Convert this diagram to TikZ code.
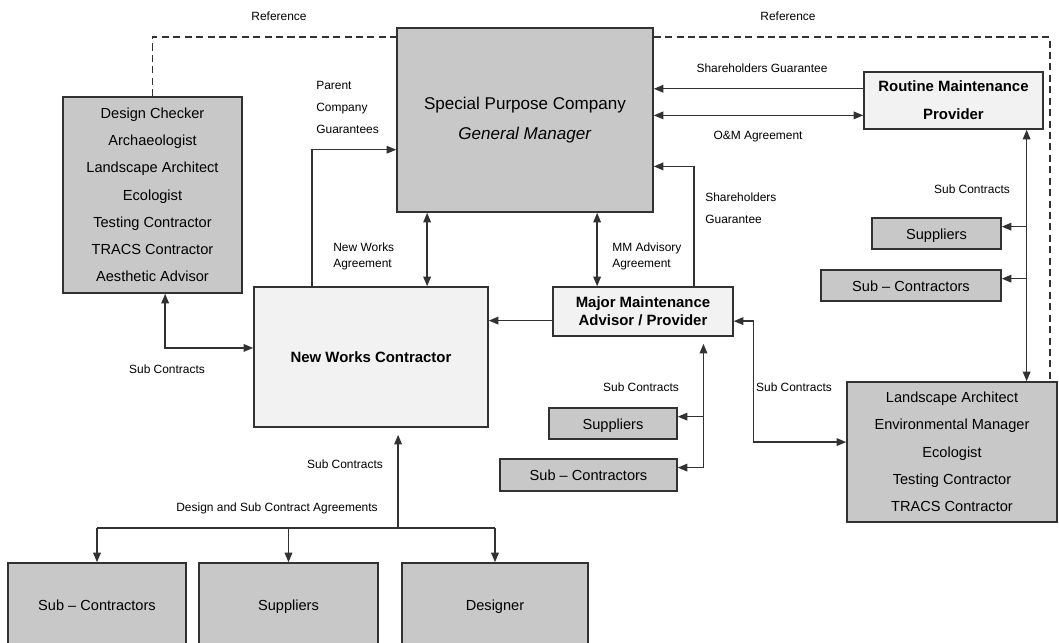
\documentclass[tikz,border=0pt]{standalone}
\usepackage{fontspec}
\setmainfont{Liberation Sans}
\usetikzlibrary{arrows.meta,calc}
\definecolor{boxgray}{RGB}{200,200,200}
\definecolor{palegray}{RGB}{242,242,242}
\definecolor{linegray}{RGB}{50,50,50}
\newlength\px
\setlength\px{0.2mm}

\tikzset{
  darkbox/.style={draw=linegray, line width=0.9pt, fill=boxgray, inner sep=0pt,
    align=center, font=\fontsize{8.3}{15.5}\selectfont},
  onebox/.style={darkbox, text height=1.6ex, text depth=0.4ex},
  palebox/.style={draw=linegray, line width=0.9pt, fill=palegray, inner sep=0pt,
    align=center, font=\bfseries\fontsize{8.5}{15.9}\selectfont},
  lbl/.style={inner sep=0pt, align=left, font=\fontsize{6.8}{12.5}\selectfont},
  tightlbl/.style={lbl, font=\fontsize{6.8}{9.1}\selectfont},
  arr/.style={draw=linegray, line width=0.75pt, -{Triangle[length=5.5pt,width=4.4pt]}},
  dbl/.style={arr, {Triangle[length=5.5pt,width=4.4pt]}-{Triangle[length=5.5pt,width=4.4pt]}},
  refline/.style={draw=linegray, line width=0.75pt, dash pattern=on 4pt off 2.5pt},
}

\begin{document}
\begin{tikzpicture}[x=0.2mm, y=-0.2mm]
    \useasboundingbox (0,0) rectangle (1059,643);
    \clip (0,0) rectangle (1059,643);

    % Main boxes
    \node[darkbox, minimum width=256\px, minimum height=184\px, font=\fontsize{9.7}{17}\selectfont]
        (spc) at (525,120) {Special Purpose Company\\\textit{General Manager}};
    \node[darkbox, minimum width=179\px, minimum height=196\px] (design) at (152.5,195)
        {Design Checker\\Archaeologist\\Landscape Architect\\Ecologist\\Testing Contractor\\TRACS Contractor\\Aesthetic Advisor};
    \node[palebox, minimum width=234\px, minimum height=140\px] (nwc) at (371,357) {New Works Contractor};
    \node[palebox, minimum width=180\px, minimum height=49\px, font=\bfseries\fontsize{8.5}{10.2}\selectfont]
        (mma) at (643,311.5) {Major Maintenance\\Advisor / Provider};
    \node[palebox, minimum width=179\px, minimum height=57\px] (rmp) at (953.5,100.5) {Routine Maintenance\\Provider};

    % Right hand side
    \node[onebox, minimum width=129\px, minimum height=31\px] (supR) at (936.5,233.5) {Suppliers};
    \node[onebox, minimum width=180\px, minimum height=31\px] (subR) at (911,285.5) {Sub -- Contractors};
    \node[darkbox, minimum width=210\px, minimum height=140\px] (land) at (952,452)
        {Landscape Architect\\Environmental Manager\\Ecologist\\Testing Contractor\\TRACS Contractor};

    % Under major maintenance
    \node[onebox, minimum width=128\px, minimum height=31\px] (supM) at (613,423.5) {Suppliers};
    \node[onebox, minimum width=177\px, minimum height=32\px] (subM) at (588.5,475) {Sub -- Contractors};

    % Bottom row
    \node[onebox, minimum width=178\px, minimum height=84\px] (subB) at (97,605) {Sub -- Contractors};
    \node[onebox, minimum width=179\px, minimum height=84\px] (supB) at (288.5,605) {Suppliers};
    \node[onebox, minimum width=186\px, minimum height=84\px] (desB) at (495,605) {Designer};

    % Reference (dashed)
    \coordinate (reftop) at (0,37);
    \coordinate (refright) at (1050,0);
    \draw[refline] (design.north) |- (spc.west |- reftop);
    \draw[refline] (spc.east |- reftop) -| (refright |- land.north);
    \node[lbl] (refL) at (279,16) {Reference};
    \node[lbl] (refR) at (788,16) {Reference};

    % New works contractor links
    \coordinate (pcgA) at ($(nwc.north west)!0.25!(nwc.north east)$);
    \coordinate (pcgB) at ($(spc.north west)!0.66!(spc.south west)$);
    \draw[arr] (pcgA) |- (pcgB);
    \node[lbl, anchor=west] (pcg) at (316,107) {Parent\\Company\\Guarantees};

    \coordinate (nwa) at ($(spc.south west)!0.12!(spc.south east)$);
    \draw[dbl] (nwa) -- (nwa |- nwc.north);
    \node[tightlbl, anchor=west] (nwalbl) at (333,256) {New Works\\Agreement};

    \coordinate (dcA) at ($(design.south west)!0.57!(design.south east)$);
    \coordinate (dcB) at ($(nwc.north west)!0.436!(nwc.south west)$);
    \draw[dbl] (dcA) |- (dcB);
    \node[lbl] (dclbl) at (167,369) {Sub Contracts};

    % Major maintenance links
    \coordinate (mmadv) at ($(spc.south west)!0.78!(spc.south east)$);
    \draw[dbl] (mmadv) -- (mmadv |- mma.north);
    \node[tightlbl, anchor=west] (mmalbl) at (612,256) {MM Advisory\\Agreement};

    \coordinate (shgA) at ($(mma.north west)!0.78!(mma.north east)$);
    \coordinate (shgB) at ($(spc.north east)!0.75!(spc.south east)$);
    \draw[arr] (shgA) |- (shgB);
    \node[lbl, anchor=west] (shglbl) at (705,208) {Shareholders\\Guarantee};

    \coordinate (mmnw) at ($(nwc.north east)!0.243!(nwc.south east)$);
    \draw[arr] (mma.west |- mmnw) -- (mmnw);

    \coordinate (mmsub) at ($(mma.south west)!0.833!(mma.south east)$);
    \coordinate (supMin) at ($(supM.north east)!0.29!(supM.south east)$);
    \coordinate (subMin) at ($(subM.north east)!0.28!(subM.south east)$);
    \draw[arr, shorten >=4pt] (mmsub |- subMin) -- (mmsub);
    \draw[arr] (mmsub |- supMin) -- (supMin);
    \draw[arr] (mmsub |- subMin) -- (subMin);
    \node[lbl] (mmsublbl) at (641,387) {Sub Contracts};

    \coordinate (mmland) at ($(mma.north east)!0.69!(mma.south east)$);
    \coordinate (landin) at ($(land.north west)!0.43!(land.south west)$);
    \draw[dbl] (mmland) -- ++(20,0) |- (landin);
    \node[lbl] (landlbl) at (794,387) {Sub Contracts};

    % Routine maintenance links
    \coordinate (rmA) at ($(rmp.north west)!0.3!(rmp.south west)$);
    \coordinate (rmB) at ($(rmp.north west)!0.754!(rmp.south west)$);
    \draw[arr] (rmA) -- (spc.east |- rmA);
    \draw[dbl] (spc.east |- rmB) -- (rmB);
    \node[lbl] (rmAlbl) at (762,68) {Shareholders Guarantee};
    \node[lbl] (rmBlbl) at (758,137) {O\&M Agreement};

    \coordinate (rmsub) at ($(rmp.south west)!0.905!(rmp.south east)$);
    \coordinate (supRin) at ($(supR.north east)!0.29!(supR.south east)$);
    \coordinate (subRin) at ($(subR.north east)!0.29!(subR.south east)$);
    \draw[dbl] (rmsub) -- (rmsub |- land.north);
    \draw[arr] (rmsub |- supRin) -- (supRin);
    \draw[arr] (rmsub |- subRin) -- (subRin);
    \node[lbl] (rmsublbl) at (972,189) {Sub Contracts};

    % Bottom tree
    \coordinate (split) at (0,528);
    \coordinate (nwcin) at ($(nwc.south west)!0.615!(nwc.south east)$);
    \draw[arr, shorten >=4pt] (nwcin |- split) -- (nwcin);
    \draw[draw=linegray, line width=0.75pt] (subB.north |- split) -- (desB.north |- split);
    \foreach \b in {subB,supB,desB}
        \draw[arr] (\b.north |- split) -- (\b.north);
    \node[lbl] (botlbl) at (345,464) {Sub Contracts};
    \node[lbl] (agrlbl) at (277,508) {Design and Sub Contract Agreements};
\end{tikzpicture}
\end{document}
